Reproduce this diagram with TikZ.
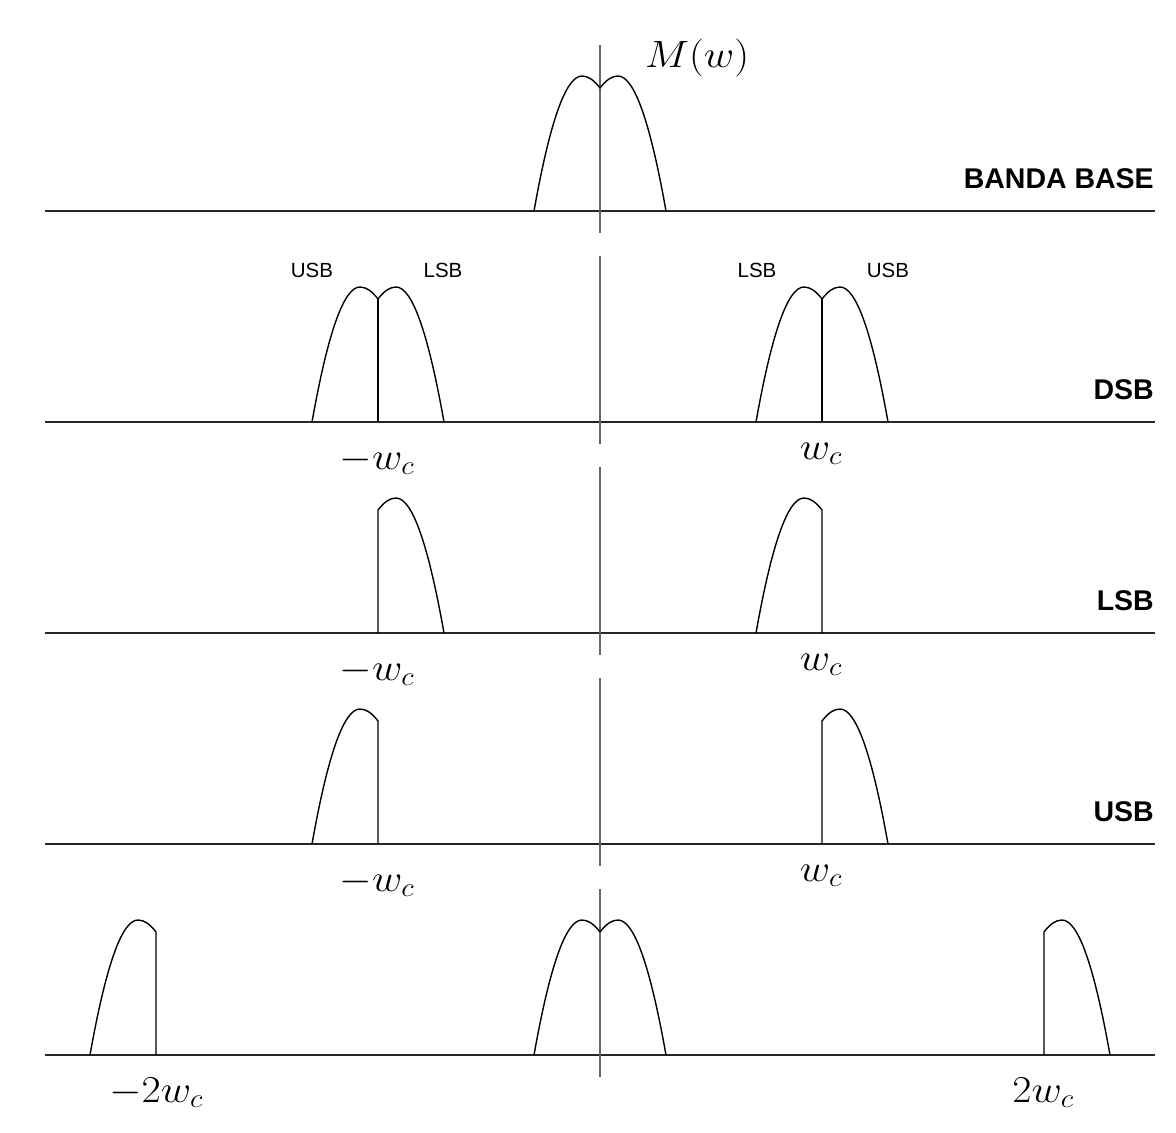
\RequirePackage{fix-cm}
\documentclass[tikz,border=0pt]{standalone}
\usepackage{fontspec}
\newfontfamily\labfont{Liberation Sans}
\newcommand{\wlab}[1]{\scalebox{1.1}[1]{$#1$}}
\begin{document}
\begin{tikzpicture}[x=1pt,y=-1pt,
  hline/.style={line width=1.8pt, black!85},
  vaxis/.style={line width=1.7pt, black!60},
  lobe/.style={line width=1.4pt, black, line join=round},
  sblabel/.style={font=\labfont\fontsize{20.5}{24}\selectfont, inner sep=0pt, anchor=base},
  bandlabel/.style={font=\labfont\bfseries\fontsize{28.5}{32}\selectfont, inner sep=0pt, anchor=base east},
  freq/.style={font=\fontsize{38}{44}\selectfont, inner sep=0pt, anchor=base},
  lefthalf/.pic={\draw[lobe] (-66,0) .. controls (-50,-90) and (-34,-135) .. (-18,-135)
      .. controls (-12,-135) and (-6,-131) .. (0,-123) -- (0,0);},
  righthalf/.pic={\draw[lobe] (0,0) -- (0,-123) .. controls (6,-131) and (12,-135) .. (18,-135)
      .. controls (34,-135) and (50,-90) .. (66,0);},
  fulllobe/.pic={\draw[lobe] (-66,0) .. controls (-50,-90) and (-34,-135) .. (-18,-135)
      .. controls (-12,-135) and (-6,-131) .. (0,-123)
      .. controls (6,-131) and (12,-135) .. (18,-135)
      .. controls (34,-135) and (50,-90) .. (66,0);},
  dsblobe/.pic={\draw[lobe] (-66,0) .. controls (-50,-90) and (-34,-135) .. (-18,-135)
      .. controls (-12,-135) and (-6,-131) .. (0,-123)
      .. controls (6,-131) and (12,-135) .. (18,-135)
      .. controls (34,-135) and (50,-90) .. (66,0);
      \draw[lobe] (0,0) -- (0,-123);}
]
\useasboundingbox[fill=white] (0,0) rectangle (1176,1133);

% baselines and vertical axis segments
\foreach \b in {211,422,633,844,1055} {
  \draw[hline] (45,\b) -- (1155,\b);
  \draw[vaxis] (600,\b-166) -- (600,\b+22);
}

% panel 1: banda base
\pic at (600,211) {fulllobe};
\node[freq, anchor=base west] (mw) at (645,67) {\wlab{M(w)}};
\node[bandlabel] (bb) at (1154,188) {BANDA BASE};

% panel 2: DSB
\pic at (378,422) {dsblobe};
\pic at (822,422) {dsblobe};
\node[sblabel] (u1) at (312,277) {USB};
\node[sblabel] (l1) at (443,277) {LSB};
\node[sblabel] (l2) at (757,277) {LSB};
\node[sblabel] (u2) at (888,277) {USB};
\node[bandlabel] (dsb) at (1154,399) {DSB};
\node[freq] (nwc1) at (377,469) {\wlab{-w_c}};
\node[freq] (pwc1) at (821,459) {\wlab{w_c}};

% panel 3: LSB
\pic at (378,633) {righthalf};
\pic at (822,633) {lefthalf};
\node[bandlabel] (lsb) at (1154,610) {LSB};
\node[freq] (nwc2) at (377,680) {\wlab{-w_c}};
\node[freq] (pwc2) at (821,670) {\wlab{w_c}};

% panel 4: USB
\pic at (378,844) {lefthalf};
\pic at (822,844) {righthalf};
\node[bandlabel] (usb) at (1154,821) {USB};
\node[freq] (nwc3) at (377,891) {\wlab{-w_c}};
\node[freq] (pwc3) at (821,881) {\wlab{w_c}};

% panel 5
\pic at (156,1055) {lefthalf};
\pic at (600,1055) {fulllobe};
\pic at (1044,1055) {righthalf};
\node[freq] (n2wc) at (156,1102) {\wlab{-2w_c}};
\node[freq] (p2wc) at (1043,1102) {\wlab{2w_c}};
\end{tikzpicture}
\end{document}
